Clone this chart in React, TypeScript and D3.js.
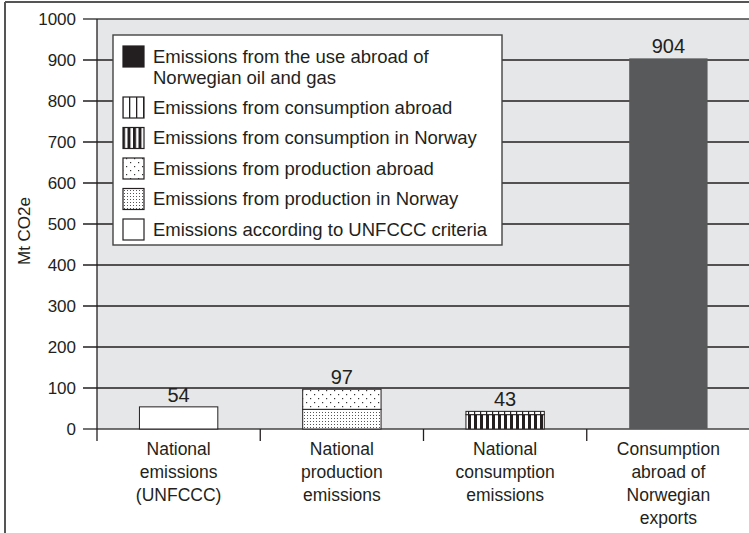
import React from "react";
import * as d3 from "d3";

const categories = ["unfccc", "production", "consumption", "exports"];
const categoryLabels = [
  ["National", "emissions", "(UNFCCC)"],
  ["National", "production", "emissions"],
  ["National", "consumption", "emissions"],
  ["Consumption", "abroad of", "Norwegian", "exports"],
];
const seriesKeys = ["unfccc", "prodNorway", "prodAbroad", "consNorway", "consAbroad", "oilGas"];
const unfccc = [54, 0, 0, 0];
const prodNorway = [0, 48, 0, 0];
const prodAbroad = [0, 49, 0, 0];
const consNorway = [0, 0, 35, 0];
const consAbroad = [0, 0, 8, 0];
const oilGas = [0, 0, 0, 904];
const totals = [54, 97, 43, 904];
const yTicks = [0, 100, 200, 300, 400, 500, 600, 700, 800, 900, 1000];
const legendItems = [
  { key: "oilGas", lines: ["Emissions from the use abroad of", "Norwegian oil and gas"] },
  { key: "consAbroad", lines: ["Emissions from consumption abroad"] },
  { key: "consNorway", lines: ["Emissions from consumption in Norway"] },
  { key: "prodAbroad", lines: ["Emissions from production abroad"] },
  { key: "prodNorway", lines: ["Emissions from production in Norway"] },
  { key: "unfccc", lines: ["Emissions according to UNFCCC criteria"] },
];

const seriesValues: Record<string, number[]> = { unfccc, prodNorway, prodAbroad, consNorway, consAbroad, oilGas };

const FONT = "'Liberation Sans', Arial, Helvetica, sans-serif";
const INK = "#231f20";

const fills: Record<string, string> = {
  unfccc: "#ffffff",
  prodNorway: "url(#pDense)",
  prodAbroad: "url(#pSparse)",
  consNorway: "url(#pBold)",
  consAbroad: "url(#pThin)",
  oilGas: "#58595b",
};
const legendFills: Record<string, string> = { ...fills, oilGas: INK };

export default function App() {
  const W = 749, H = 533;
  const left = 97, right = 750, top = 19, bottom = 429;
  const y = d3.scaleLinear().domain([0, 1000]).range([bottom, top]);
  const x = d3.scaleBand<string>().domain(categories).range([left, right]).paddingInner(0).paddingOuter(0);
  const bw = x.bandwidth() * 0.48;

  const table = categories.map((c, i) => {
    const row: any = { cat: c };
    seriesKeys.forEach((k) => (row[k] = seriesValues[k][i]));
    return row;
  });
  const stacked = d3.stack<any>().keys(seriesKeys)(table);

  const legX = 113, legY = 35, legW = 389, legH = 210;
  let rowY = legY + 11;

  return (
    <svg width={W} height={H} style={{ position: "absolute", left: 0, top: 0 }} fontFamily={FONT}>
      <defs>
        <pattern id="pDense" width="3" height="3" patternUnits="userSpaceOnUse">
          <rect width="3" height="3" fill="#fff" />
          <rect x="1" y="1" width="1" height="1" fill="#555" />
        </pattern>
        <pattern id="pSparse" width="8" height="8" patternUnits="userSpaceOnUse">
          <rect width="8" height="8" fill="#fff" />
          <rect x="2" y="2" width="1.2" height="1.2" fill="#333" />
          <rect x="6" y="6" width="1.2" height="1.2" fill="#333" />
        </pattern>
        <pattern id="pBold" width="6" height="6" patternUnits="userSpaceOnUse">
          <rect width="6" height="6" fill="#fff" />
          <rect x="0" y="0" width="3" height="6" fill={INK} />
        </pattern>
        <pattern id="pThin" width="6" height="6" patternUnits="userSpaceOnUse">
          <rect width="6" height="6" fill="#fff" />
          <rect x="0" y="0" width="1.2" height="6" fill={INK} />
        </pattern>
        <pattern id="pThinL" width="7" height="7" patternUnits="userSpaceOnUse" x="3">
          <rect width="7" height="7" fill="#fff" />
          <rect x="0" y="0" width="1.3" height="7" fill={INK} />
        </pattern>
        <pattern id="pBoldL" width="5.5" height="5.5" patternUnits="userSpaceOnUse" x="1">
          <rect width="5.5" height="5.5" fill="#fff" />
          <rect x="0" y="0" width="3" height="5.5" fill={INK} />
        </pattern>
      </defs>

      {/* outer frame */}
      <line x1={5} y1={2} x2={W} y2={2} stroke="#555" strokeWidth={2} />
      <line x1={5} y1={2} x2={5} y2={H} stroke="#555" strokeWidth={2} />

      {/* plot background */}
      <rect x={left} y={top} width={right - left} height={bottom - top} fill="#e6e7e8" />

      {/* gridlines & y ticks */}
      {yTicks.map((t) => (
        <g key={t}>
          <line x1={83} x2={right} y1={y(t)} y2={y(t)} stroke={t === 0 || t === 1000 ? "#444" : INK} strokeWidth={1.5} />
          <text x={76} y={y(t)} dy="0.35em" textAnchor="end" fontSize={17} fill={INK}>
            {t}
          </text>
        </g>
      ))}
      <line x1={left} x2={left} y1={top} y2={bottom + 12} stroke={INK} strokeWidth={1.3} />
      {categories.slice(1).map((c) => (
        <line key={c} x1={x(c)!} x2={x(c)!} y1={bottom} y2={bottom + 12} stroke={INK} strokeWidth={1.3} />
      ))}

      {/* y label */}
      <text transform={`translate(24,231) rotate(-90)`} textAnchor="middle" dy="0.35em" fontSize={17} fill={INK}>
        Mt CO2e
      </text>

      {/* bars */}
      {stacked.map((s) =>
        s.map((d, i) => {
          if (d[1] - d[0] <= 0) return null;
          const cx = x(categories[i])! + x.bandwidth() / 2;
          const isDark = s.key === "oilGas";
          return (
            <rect
              key={s.key + i}
              x={cx - bw / 2}
              y={y(d[1])}
              width={bw}
              height={y(d[0]) - y(d[1])}
              fill={fills[s.key]}
              stroke={isDark ? "none" : INK}
              strokeWidth={1}
            />
          );
        })
      )}

      {/* value labels */}
      {totals.map((v, i) => (
        <text key={i} x={x(categories[i])! + x.bandwidth() / 2} y={y(v) - 5} textAnchor="middle" fontSize={20} fill={INK}>
          {v}
        </text>
      ))}

      {/* category labels */}
      {categoryLabels.map((lines, i) => (
        <text key={i} textAnchor="middle" fontSize={17.5} fill={INK}>
          {lines.map((ln, j) => (
            <tspan key={j} x={x(categories[i])! + x.bandwidth() / 2} y={455 + j * 23}>
              {ln}
            </tspan>
          ))}
        </text>
      ))}

      {/* legend */}
      <rect x={legX} y={legY} width={legW} height={legH} fill="#fff" stroke="#444" strokeWidth={1.4} />
      {legendItems.map((it) => {
        const sy = rowY;
        const h = it.lines.length > 1 ? 51 : 30.5;
        rowY += h;
        const lf = it.key === "consAbroad" ? "url(#pThinL)" : it.key === "consNorway" ? "url(#pBoldL)" : legendFills[it.key];
        return (
          <g key={it.key}>
            <rect x={123} y={sy} width={21} height={21} fill={lf} stroke={INK} strokeWidth={1.2} />
            {it.lines.map((ln, j) => (
              <text key={j} x={153} y={sy + 10.5 + j * 21} dy="0.35em" fontSize={18.5} fill={INK}>
                {ln}
              </text>
            ))}
          </g>
        );
      })}
    </svg>
  );
}
